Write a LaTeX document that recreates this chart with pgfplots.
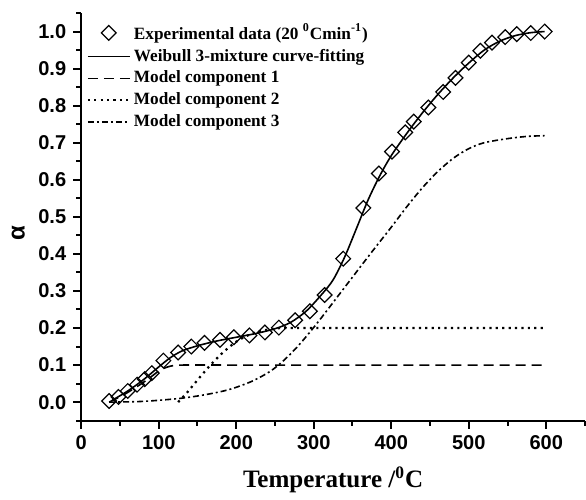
\documentclass[border=0pt]{standalone}
\usepackage{pgfplots}
\pgfplotsset{compat=1.18}
\usepackage{fontspec}
\setmainfont{Liberation Serif}
\setsansfont{Liberation Sans}

\pgfplotsset{
  lineimg/.style={legend image code/.code={\draw[##1] (0pt,0pt) -- (21pt,0pt);}},
  markimg/.style={legend image code/.code={\draw[##1] plot coordinates {(10.5pt,0pt)};}},
}

\begin{document}
\begin{tikzpicture}
\begin{axis}[
  name=ax,
  width=251.5pt, height=203.5pt, scale only axis,
  axis lines=left, axis line style={-, line width=1pt},
  xmin=0, xmax=650, ymin=-0.05, ymax=1.05,
  xtick={0,100,...,600}, minor xtick={50,150,...,650},
  ytick={0,0.1,...,1.0}, minor ytick={-0.05,0.05,...,1.05},
  tick align=outside, major tick length=4pt, minor tick length=2.5pt,
  tick style={line width=1pt, black},
  ticklabel style={font=\sffamily\bfseries\fontsize{10}{12}\selectfont},
  /pgf/number format/assume math mode=true,
  yticklabel style={/pgf/number format/.cd, fixed, fixed zerofill, precision=1},
  xlabel={Temperature /\textsuperscript{0}C},
  ylabel={α},
  xlabel style={font=\bfseries\fontsize{12.5}{14}\selectfont, yshift=-1.5pt},
  ylabel style={font=\sffamily\bfseries\fontsize{12}{14}\selectfont,
    at={(axis description cs:-0.125,0.46)}, anchor=center},
  legend style={draw=none, fill=none, at={(0.01,0.985)}, anchor=north west,
    font=\bfseries\fontsize{8.6}{10}\selectfont, row sep=-0.6pt, inner sep=0pt,
    nodes={inner xsep=1.5pt}},
  legend cell align=left,
]
% experimental data
\addplot[only marks, mark=square, mark size=2.6pt, mark options={rotate=45, line width=0.6pt, fill=white}, black, markimg]
coordinates {
(36,0.003) (48,0.014) (60,0.030) (72,0.047) (82,0.062) (91,0.078) (106,0.112)
(125,0.134) (142,0.150) (159,0.160) (179,0.168) (197,0.175) (217,0.180)
(237,0.188) (255,0.201) (276,0.221) (295,0.245) (314,0.289) (338,0.387)
(364,0.524) (384,0.617) (401,0.676) (418,0.728) (429,0.757) (448,0.795)
(467,0.837) (483,0.875) (500,0.916) (515,0.948) (530,0.970) (547,0.985)
(562,0.993) (580,0.996) (598,1.000)
};
\addlegendentry{Experimental data (20 \textsuperscript{0}Cmin\textsuperscript{-1})}
% Weibull fit
\addplot[black, line width=0.8pt, smooth, lineimg] coordinates {
(40,0.005) (60,0.030) (80,0.060) (100,0.095) (115,0.120) (130,0.138)
(150,0.152) (175,0.165) (200,0.175) (225,0.185) (250,0.198) (270,0.215)
(290,0.245) (310,0.290) (325,0.330) (340,0.392) (355,0.468) (370,0.545)
(385,0.610) (400,0.665) (420,0.725) (440,0.780) (460,0.830) (480,0.875)
(500,0.915) (520,0.950) (540,0.974) (560,0.989) (580,0.997) (598,1.000)
};
\addlegendentry{Weibull 3-mixture curve-fitting}
% component 1
\addplot[black, line width=0.8pt, dash pattern=on 5pt off 3pt, smooth, lineimg] coordinates {
(36,0) (55,0.020) (75,0.046) (90,0.068) (100,0.084) (110,0.094) (120,0.099)
(130,0.100) (200,0.100) (300,0.100) (400,0.100) (500,0.100) (600,0.100)
};
\addlegendentry{Model component 1}
% component 2
\addplot[black, line width=1.1pt, dash pattern=on 1.1pt off 2.1pt, smooth, lineimg] coordinates {
(125,0) (135,0.022) (145,0.047) (155,0.072) (165,0.096) (175,0.118) (185,0.138)
(200,0.163) (215,0.180) (230,0.191) (245,0.197) (260,0.200) (300,0.200)
(400,0.200) (500,0.200) (600,0.200)
};
\addlegendentry{Model component 2}
% component 3
\addplot[black, line width=0.8pt, dash pattern=on 3pt off 1.5pt on 1pt off 1.5pt, smooth, lineimg] coordinates {
(36,0) (80,0.002) (127,0.010) (160,0.020) (191,0.034) (220,0.056) (243,0.082)
(260,0.110) (280,0.152) (304,0.212) (340,0.310) (373,0.400) (400,0.472)
(420,0.527) (440,0.578) (460,0.622) (480,0.658) (500,0.684) (520,0.700)
(550,0.711) (575,0.717) (598,0.719)
};
\addlegendentry{Model component 3}
\end{axis}
\path ([yshift=6.5pt]ax.north) ([xshift=-2.5pt]ax.outer west);
\end{tikzpicture}
\end{document}
